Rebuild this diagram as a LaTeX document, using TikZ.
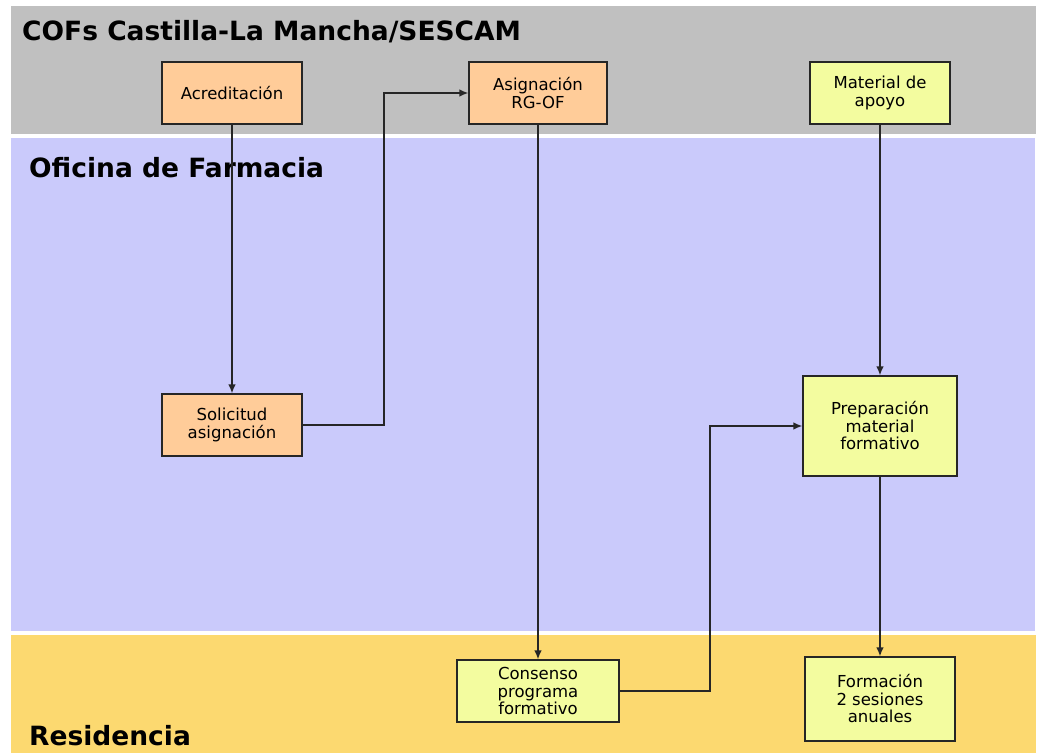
\documentclass[tikz,border=0pt]{standalone}
\usepackage{fontspec}
\usepackage{tikz}
\usetikzlibrary{arrows.meta}
\setmainfont{DejaVu Sans}
\definecolor{bandgray}{HTML}{C0C0C0}
\definecolor{bandlila}{HTML}{CACAFB}
\definecolor{bandgold}{HTML}{FCD970}
\definecolor{boxorange}{HTML}{FFCC99}
\definecolor{boxlemon}{HTML}{F3FC9F}
\definecolor{edge}{HTML}{262626}

\begin{document}
\begin{tikzpicture}[x=1pt,y=-1pt,
      band/.style={inner sep=0pt,anchor=base west,
        font=\fontsize{26.5}{30}\selectfont\bfseries},
      step box/.style={draw=edge,line width=1.3pt,inner sep=0pt,
        align=center,font=\fontsize{16.5}{17.5}\selectfont},
      orangebox/.style={step box,fill=boxorange},
      lemonbox/.style={step box,fill=boxlemon},
      flow/.style={draw=edge,line width=1.4pt,-{Latex[length=9pt,width=7.5pt]}}]
      \useasboundingbox (0,0) rectangle (1042,753);
      % bands
      \fill[bandgray] (11,6) rectangle (1036,134);
      \fill[bandlila] (11,138) rectangle (1035,631);
      \fill[bandgold] (11,635) rectangle (1036,753);
      \node[band] (cofs) at (22,40) {COFs Castilla-La Mancha/SESCAM};
      \node[band] (oficina) at (29,177) {Oficina de Farmacia};
      \node[band] (resid) at (29,745) {Residencia};
      % steps
      \node[orangebox,minimum width=140pt,minimum height=62pt] (acred) at (232,93) {Acreditación};
      \node[orangebox,minimum width=138pt,minimum height=62pt] (asign) at (538,93) {Asignación\\RG-OF};
      \node[lemonbox,minimum width=140pt,minimum height=62pt] (mat) at (880,93) {Material de\\apoyo};
      \node[orangebox,minimum width=140pt,minimum height=62pt] (solic) at (232,425) {Solicitud\\asignación};
      \node[lemonbox,minimum width=154pt,minimum height=100pt] (prep) at (880,426) {Preparación\\material\\formativo};
      \node[lemonbox,minimum width=162pt,minimum height=62pt] (cons) at (538,691) {Consenso\\programa\\formativo};
      \node[lemonbox,minimum width=150pt,minimum height=84pt] (form) at (880,699) {Formación\\2 sesiones\\anuales};
      % connectors
      \draw[flow] (acred) -- (solic);
      \draw[flow] (solic.east) -| (384,93) -- (asign.west);
      \draw[flow] (asign) -- (cons);
      \draw[flow] (cons.east) -| (710,426) -- (prep.west);
      \draw[flow] (mat) -- (prep);
      \draw[flow] (prep) -- (form);
    \end{tikzpicture}
\end{document}
